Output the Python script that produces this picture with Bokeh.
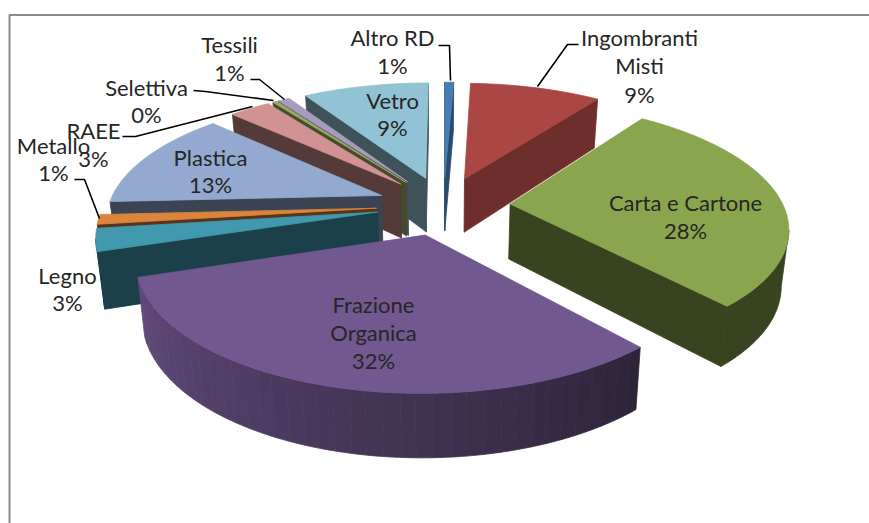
import math
from bokeh.plotting import figure
from bokeh.models import ColumnDataSource, Range1d
from bokeh.core.properties import value
from bokeh.embed import file_html
from bokeh.resources import INLINE

# Data (percent shares, clockwise from the start angle)
names = ["Ingombranti Misti", "Carta e Cartone", "Frazione Organica", "Legno", "Metallo",
         "Plastica", "RAEE", "Selettiva", "Tessili", "Vetro", "Altro RD"]
shares = [9.3, 28.5, 31.6, 2.9, 1.25, 12.9, 2.9, 0.3, 0.83, 8.9, 0.64]
colors = [(170, 70, 67), (137, 165, 78), (113, 88, 143), (65, 152, 175), (219, 132, 61),
          (147, 169, 207), (209, 147, 146), (150, 170, 100), (169, 155, 189), (146, 195, 213),
          (70, 125, 180)]
shade_a = [0.65, 0.41, 0.40, 0.42, 0.40, 0.40, 0.40, 0.45, 0.45, 0.42, 0.6]
shade_b = [0.65, 0.41, 0.85, 0.42, 0.40, 0.40, 0.40, 0.45, 0.45, 0.42, 0.6]

# (text, x, y) label lines
label_lines = [
    ("Altro RD", 392, 37), ("1%", 392, 65),
    ("Tessili", 229, 44), ("1%", 229, 72),
    ("Selettiva", 146, 87), ("0%", 146, 114),
    ("RAEE", 93, 130), ("3%", 93, 158),
    ("Metallo", 53, 145), ("1%", 53, 172),
    ("Legno", 67, 275), ("3%", 67, 302),
    ("Plastica", 210, 157), ("13%", 210, 184),
    ("Vetro", 392, 100), ("9%", 392, 127),
    ("Ingombranti", 639, 37), ("Misti", 639, 65), ("9%", 639, 94),
    ("Carta e Cartone", 685, 202), ("28%", 685, 230),
    ("Frazione", 373, 304), ("Organica", 373, 332), ("32%", 373, 360),
]
leaders = [
    ([438, 449, 450], [45, 45, 80]),
    ([578, 567, 537], [44, 44, 86]),
    ([250, 259, 284], [79, 79, 99]),
    ([193, 205, 273], [90, 91, 100]),
    ([122, 135, 252], [136, 136, 106]),
    ([74, 84, 99], [179, 179, 218]),
]

# Projection of the pie
CX, CY, RX, RY, K = 443.0, 205.0, 273.0, 120.0, 0.17
EXPLODE, DEPTH, START, BOTTOM_SCALE = 0.245, 55.0, 2.3, 0.978
BANDS = 40


def project(u, v, low=False):
    w = 1 + K * v
    x = CX + RX * u / w
    y = CY - RY * v / w
    if low:
        x = CX + (x - CX) * BOTTOM_SCALE
        y = y + DEPTH / (1 + 0.7 * K * v)
    return x, y


total = sum(shares)
slices = []
a = START
for i, s in enumerate(shares):
    b = a + s / total * 360
    slices.append((i, a, b))
    a = b


def far(sl):
    return -math.cos(math.radians((sl[1] + sl[2]) / 2))


def rgb(c, f=1.0):
    return "#%02x%02x%02x" % tuple(int(round(x * f)) for x in c)


xs, ys, fills = [], [], []


def add_wall(run, color):
    up = [project(*q) for q in run]
    low = [project(*q, low=True) for q in reversed(run)]
    xs.append([q[0] for q in up + low])
    ys.append([q[1] for q in up + low])
    fills.append(color)


for i, a, b in sorted(slices, key=far):
    mid = math.radians((a + b) / 2)
    ou, ov = EXPLODE * math.sin(mid), EXPLODE * math.cos(mid)
    n = max(2, int((b - a) / 0.5))
    angles = [a + (b - a) * j / n for j in range(n + 1)]
    arc = [(ou + math.sin(math.radians(t)), ov + math.cos(math.radians(t))) for t in angles]
    apex = (ou, ov)
    # radial walls that face the viewer
    if project(*arc[0])[0] < project(*apex)[0]:
        add_wall([apex, arc[0]], rgb(colors[i], shade_a[i]))
    if project(*apex)[0] < project(*arc[-1])[0]:
        add_wall([arc[-1], apex], rgb(colors[i], shade_a[i]))
    # the outer wall, as bands of constant shade
    nb = BANDS if shade_a[i] != shade_b[i] else 1
    for band in range(nb):
        lo = band * n // nb
        hi = (band + 1) * n // nb
        run = []
        for j in range(lo, hi):
            if project(*arc[j + 1])[0] < project(*arc[j])[0]:
                if not run:
                    run.append(arc[j])
                run.append(arc[j + 1])
        if run:
            f = shade_a[i] + (shade_b[i] - shade_a[i]) * (band + 0.5) / nb
            add_wall(run, rgb(colors[i], f))
    top = [project(*q) for q in [apex] + arc]
    xs.append([q[0] for q in top])
    ys.append([q[1] for q in top])
    fills.append(rgb(colors[i]))

W, H = 869, 523
p = figure(width=W, height=H, output_backend="svg", toolbar_location=None,
           x_range=Range1d(0, W), y_range=Range1d(H, 0), min_border=0, outline_line_color=None)
p.xaxis.visible = False
p.yaxis.visible = False
p.grid.visible = False

p.line([9, 9, W], [H, 14.5, 14.5], line_color="#8a8a8a", line_width=2)
p.patches("xs", "ys", source=ColumnDataSource(dict(xs=xs, ys=ys, c=fills)),
          fill_color="c", line_color="c", line_width=0.8)
for lx, ly in leaders:
    p.line(lx, ly, line_color="#000000", line_width=1.6)
p.text([t[1] for t in label_lines], [t[2] for t in label_lines], text=[t[0] for t in label_lines],
       text_font=value("Lato"), text_font_size="22px", text_color="#262626",
       text_align="center", text_baseline="middle")

open("out.html", "w").write(file_html(p, INLINE))
